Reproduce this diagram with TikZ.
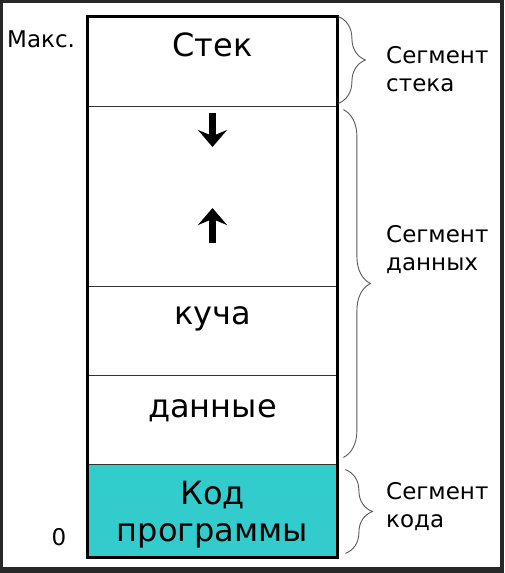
\documentclass[tikz,border=0pt]{standalone}
\usepackage{fontspec}
\setmainfont{DejaVu Sans}
\usetikzlibrary{arrows.meta,decorations.pathreplacing}

\definecolor{codecyan}{RGB}{51,204,204}
\definecolor{framegray}{RGB}{40,40,40}
\definecolor{bracegray}{RGB}{90,90,90}

\tikzset{
  cell/.style={draw=black!80, line width=0.8pt, minimum width=249pt, inner sep=0pt},
  celltext/.style={font=\fontsize{32}{37}\selectfont, inner sep=0pt},
  sidetext/.style={font=\fontsize{23}{28}\selectfont, inner sep=0pt},
  segtext/.style={font=\fontsize{23}{28}\selectfont, align=left, anchor=west, inner sep=0pt},
  segbrace/.style={draw=bracegray, line width=0.9pt, decorate,
    decoration={brace, amplitude=27pt}},
  growarrow/.style={line width=6.5pt, -{Stealth[length=17pt,width=29pt,inset=6pt]}}
}

\begin{document}
\begin{tikzpicture}[x=1pt,y=-1pt]
  \useasboundingbox (0,0) rectangle (504,573);
  \fill[framegray] (0,0) rectangle (504,573);
  \fill[white] (3,3) rectangle (500,567);

  % memory column, top to bottom
  \node[cell, minimum height=89pt] (stack) at (212.5,61.5) {};
  \node[cell, minimum height=180pt] (free) at (212.5,196) {};
  \node[cell, minimum height=89pt] (heap) at (212.5,330.5) {};
  \node[cell, minimum height=89pt] (data) at (212.5,419.5) {};
  \node[cell, minimum height=93pt, fill=codecyan] (code) at (212.5,510.5) {};
  \draw[line width=2.5pt] (stack.north west) rectangle (code.south east);

  \node[celltext, anchor=base] (stacktext) at (212.5,56) {Стек};
  \node[celltext, anchor=base] (heaptext) at (212.5,324) {куча};
  \node[celltext, anchor=base] (datatext) at (212.5,417) {данные};
  \node[celltext, align=center] (codetext) at (212.5,515) {Код\\программы};

  % growth directions
  \coordinate (down1) at (212.5,113);
  \coordinate (down2) at (212.5,147);
  \coordinate (up1) at (212.5,243);
  \coordinate (up2) at (212.5,208);
  \draw[growarrow] (down1) -- (down2);
  \draw[growarrow] (up1) -- (up2);

  \node[sidetext, anchor=base west] (max) at (7,47) {Макс.};
  \node[sidetext, anchor=base] (zero) at (59,545) {0};

  % segments
  \draw[segbrace] ([xshift=1pt]stack.north east) -- ([xshift=1pt,yshift=3pt]stack.south east);
  \draw[segbrace] ([xshift=6pt,yshift=-4pt]free.north east) -- ([xshift=6pt,yshift=7pt]data.south east);
  \draw[segbrace] ([xshift=8pt,yshift=-6pt]code.north east) -- ([xshift=8pt,yshift=4pt]code.south east);

  \node[segtext] (segstack) at (386,69) {Сегмент\\стека};
  \node[segtext] (segdata) at (386,250) {Сегмент\\данных};
  \node[segtext] (segcode) at (386,507) {Сегмент\\кода};
\end{tikzpicture}
\end{document}
